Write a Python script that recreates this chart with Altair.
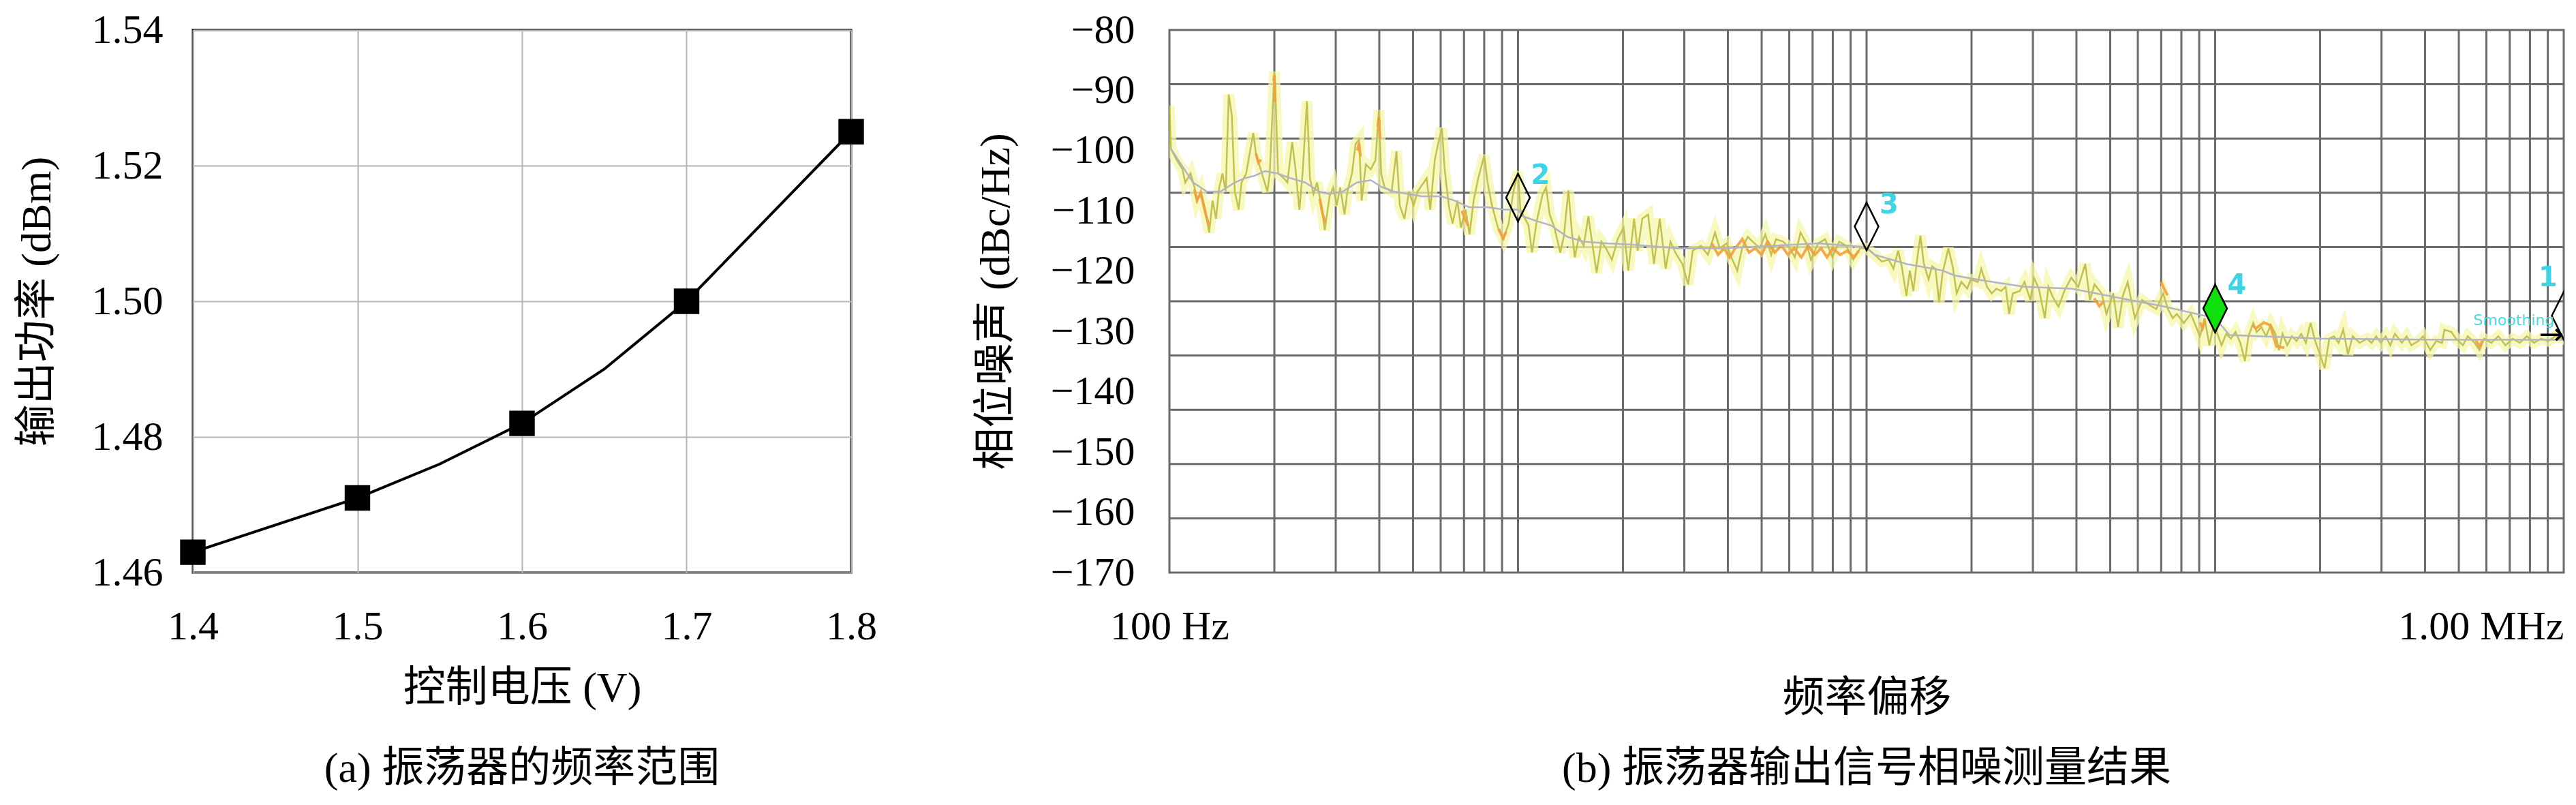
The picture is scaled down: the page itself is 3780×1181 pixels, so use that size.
import altair as alt
import pandas as pd

FONT = "Liberation Serif, Noto Sans CJK SC"

# (a) 振荡器的频率范围
volt_line = [1.4, 1.5, 1.55, 1.6, 1.65, 1.7, 1.75, 1.8]
power_line = [1.463, 1.471, 1.476, 1.482, 1.490, 1.500, 1.5125, 1.525]
volt_pts = [1.4, 1.5, 1.6, 1.7, 1.8]
power_pts = [1.463, 1.471, 1.482, 1.500, 1.525]
power_ticks = [1.46, 1.48, 1.50, 1.52, 1.54]

# (b) phase noise trace, read per decade (Hz, axis units)
dec1_f = [100, 101, 105, 109, 111, 115, 118, 120, 123, 127, 130, 133, 136, 139, 142, 145, 148, 151, 154, 158,
          161, 166, 174, 177, 181, 186, 191, 194, 200, 202, 205, 213, 218, 225, 230, 236, 241, 248, 253, 259,
          265, 273, 279, 288, 295, 302, 309, 318, 324, 334, 342, 350, 356, 366, 378, 390, 399, 405, 414, 434,
          448, 458, 472, 487, 502, 515, 547, 560, 577, 590, 605, 616, 633, 649, 670, 686, 707, 726, 746, 769,
          800, 818, 842, 876, 909, 940, 970]
dec1_db = [-92.6, -99.7, -101.6, -103.1, -105.3, -103.8, -106.1, -108.3, -106.8, -110.2,
           -113.6, -108.3, -111.3, -106.1, -103.8, -106.8, -90.7, -94.1, -106.8, -109.8,
           -105.3, -103.8, -97.1, -100.4, -102.3, -104.6, -106.8, -103.8, -86.9, -92.6,
           -103.8, -104.6, -105.3, -98.6, -103.1, -109.8, -103.8, -91.8, -104.6, -107.2,
           -105.3, -109.1, -113.2, -107.6, -106.1, -109.1, -106.1, -110.6, -106.8, -103.8,
           -98.9, -98.2, -108.3, -102.3, -103.1, -101.6, -93.3, -103.8, -106.1, -106.8,
           -100.1, -109.1, -111.3, -106.8, -109.1, -106.8, -104.6, -109.8, -101.6, -98.9,
           -96.3, -103.1, -109.1, -112.1, -108.3, -112.8, -109.8, -113.9, -108.3, -104.6,
           -100.8, -105.3, -109.1, -112.8, -114.7, -112.1, -106.8]

dec2_f = [1000, 1016, 1072, 1097, 1132, 1177, 1204, 1233, 1272, 1322, 1353, 1395, 1428, 1455, 1496, 1543,
          1592, 1630, 1681, 1734, 1787, 1859, 1932, 2008, 2072, 2153, 2205, 2273, 2362, 2455, 2551, 2652,
          2738, 2826, 2960, 3077, 3172, 3348, 3505, 3674, 3790, 3970, 4092, 4257, 4393, 4564, 4710, 4937,
          5124, 5325, 5494, 5757, 6029, 6222, 6463, 6720, 6925, 7262, 7605, 7975, 8345, 8745, 9154, 9588]
dec2_db = [-103.5, -109.8, -112.4, -116.9, -111.7, -107.2, -106.1, -110.6, -112.8, -116.9,
           -114.3, -106.6, -113.6, -117.7, -114.3, -115.8, -110.9, -115.1, -120.3, -115.1,
           -116.2, -118.1, -114.7, -112.8, -119.9, -111.3, -116.6, -111.3, -110.6, -118.8,
           -111.3, -119.6, -115.1, -116.9, -118.8, -122.2, -116.6, -115.8, -117.3, -113.6,
           -116.2, -115.4, -117.7, -119.9, -116.2, -114.3, -115.1, -116.2, -113.9, -117.3,
           -114.7, -115.1, -116.2, -117.7, -113.6, -115.4, -118.1, -115.4, -114.7, -117.7,
           -115.1, -115.8, -118.1, -116.2]

dec3_f = [10000, 10555, 11057, 11580, 11940, 12320, 12610, 13010, 13310, 13620, 13940, 14270, 14600, 15060,
          15410, 15770, 16140, 16520, 17170, 17710, 18130, 18700, 19440, 19900, 20850, 21330, 22160, 22850,
          23570, 24310, 25060, 25650, 26260, 27500, 28380, 29510, 30220, 31200, 32460, 33250, 34290, 35540,
          36920, 38660, 40500, 42410, 43720, 45070, 47250, 48780, 51000, 52650, 54350, 56110, 58850, 61700,
          64660, 67790, 70970, 73210, 75600, 77630, 81320, 85150, 87700, 90450, 93250, 96240]
dec3_db = [-116.2, -117.3, -118.4, -118.1, -119.6, -116.6, -119.2, -124.1, -119.9, -123.3,
           -118.4, -114.1, -118.8, -121.4, -119.2, -119.6, -125.2, -120.3, -116.2, -119.6,
           -123.7, -121.8, -122.9, -121.4, -121.8, -119.6, -122.6, -123.7, -122.9, -123.3,
           -122.6, -127.1, -123.7, -123.3, -121.8, -124.8, -121.1, -122.9, -127.8, -122.6,
           -124.4, -125.9, -123.3, -121.1, -122.6, -118.8, -124.8, -122.2, -123.7, -127.1,
           -123.7, -129.3, -124.1, -121.8, -127.8, -124.8, -125.6, -126.3, -123.7, -126.3,
           -127.8, -127.1, -128.6, -127.1, -128.9, -130.8, -127.8, -132.3]

dec4_f = [100000, 101100, 104300, 107600, 110960, 114450, 118050, 121750, 124600, 128600, 131600, 135760,
          140000, 144400, 148900, 152500, 156100, 161000, 166000, 171200, 176600, 182100, 187800, 193700,
          199800, 206000, 212500, 219200, 226000, 233100, 240400, 248000, 259700, 272400, 281000, 289800,
          298900, 308300, 317900, 327900, 343500, 354300, 365400, 383000, 394900, 414100, 430600, 447800,
          454800, 476100, 491000, 514000, 530200, 555700, 573000, 591300, 619600, 649400, 680700, 713400,
          747900, 783700, 821400, 860900, 902400, 945700, 991000, 1000000]
dec4_db = [-127.8, -130.1, -132.3, -130.4, -131.2, -130.1, -131.9, -134.9, -130.8, -128.6,
           -130.1, -129.3, -130.8, -128.9, -130.4, -133.1, -130.4, -132.3, -130.8, -131.6,
           -130.4, -131.9, -128.6, -131.6, -133.8, -136.1, -131.2, -130.8, -131.9, -129.7,
           -133.8, -130.8, -131.9, -131.2, -131.9, -130.8, -131.9, -130.8, -132.3, -130.4,
           -131.9, -130.8, -132.3, -131.6, -130.8, -133.1, -131.6, -131.9, -129.7, -130.1,
           -131.2, -132.3, -130.8, -131.9, -133.1, -131.2, -131.9, -130.8, -132.3, -131.2,
           -131.9, -130.8, -131.9, -131.2, -131.6, -130.8, -131.2, -131.0]

# smoothed trace (grey)
smooth_f = [101, 108, 117, 128, 140, 154, 164, 175, 188, 204, 223, 245, 269, 286, 314, 345, 378, 408, 441, 483,
            530, 602, 659, 724, 818, 909, 1000, 1031, 1132, 1242, 1384, 1543, 1800, 2104, 2868, 3909, 5325,
            7262, 9965, 10555, 13000, 16520, 17850, 20850, 28380, 38660, 52650, 71900, 100000, 110000,
            200000, 500000, 1000000]
smooth_db = [-99.7, -102.3, -105.3, -106.8, -106.8, -105.3, -104.6, -104.2, -103.4, -103.8,
             -104.6, -105.3, -106.8, -107.2, -106.8, -105.3, -104.9, -106.1, -106.8, -107.2,
             -107.6, -107.6, -108.3, -109.4, -109.4, -109.8, -109.8, -110.9, -111.7, -112.4,
             -114.3, -115.1, -115.4, -115.6, -116.2, -116.2, -115.8, -115.4, -116.0, -117.3,
             -118.8, -119.9, -120.7, -121.4, -122.6, -122.9, -124.4, -125.9, -127.8, -130.6,
             -131.2, -131.4, -131.4]

# orange raw-trace pieces showing through
orange_seg = [1, 1, 1, 1, 1, 2, 2, 2, 3, 3, 3, 4, 4, 4, 5, 5, 5, 6, 6, 6, 7, 7, 7, 8, 8, 8,
              9, 9, 9, 9, 9, 9, 9, 9, 9, 9, 9, 9, 9, 9, 9, 9, 9, 9, 9, 9, 9, 9, 9, 9,
              10, 10, 10, 11, 11, 11, 12, 12, 12, 13, 13, 13, 13, 13, 13, 14, 14, 14]
orange_f = [118, 120, 123, 127, 130, 177, 180, 183, 199, 200, 201, 270, 275, 280, 346, 350, 353,
            396, 399, 402, 690, 705, 720, 880, 905, 925,
            3600, 3750, 3900, 4050, 4200, 4400, 4600, 4800, 5000, 5200, 5450, 5700, 5950, 6200,
            6500, 6800, 7100, 7400, 7700, 8000, 8400, 8800, 9200, 9500,
            45000, 46500, 48000, 70000, 71500, 73000, 90500, 92000, 93500,
            128000, 131000, 138000, 144000, 150000, 158000, 560000, 573000, 585000]
orange_db = [-106.5, -108.3, -107.0, -110.5, -112.5, -100.5, -102.0, -101.5, -88.5, -87.5, -92.0,
             -108.0, -110.5, -112.0, -100.0, -98.8, -101.0, -96.0, -94.5, -98.0, -110.0, -111.3, -112.5,
             -113.0, -114.5, -113.5,
             -115.4, -117.3, -116.2, -117.7, -116.2, -114.7, -116.9, -116.2, -117.3, -115.1,
             -116.9, -115.8, -117.3, -116.2, -117.7, -115.8, -117.3, -116.2, -117.7, -116.2,
             -117.3, -116.6, -117.7, -116.6,
             -124.5, -125.8, -125.0, -121.8, -123.0, -124.0, -128.5, -129.5, -128.2,
             -129.0, -129.5, -128.5, -129.0, -132.5, -132.7, -131.5, -132.5, -131.5]

# analyser markers
mk_f = [1000, 10000, 100000, 1000000]
mk_db = [-107.8, -112.6, -126.2, -127.4]
mk_active = [False, False, True, False]
mk_label = ['2', '3', '4', '1']
lbl_f = [1158, 11580, 115300, 900000]
lbl_db = [-104.2, -109.1, -122.4, -121.2]

# instrument graticule and axis ticks
grid_f = [200, 300, 400, 500, 600, 700, 800, 900, 1000,
          2000, 3000, 4000, 5000, 6000, 7000, 8000, 9000, 10000,
          20000, 30000, 40000, 50000, 60000, 70000, 80000, 90000, 100000,
          200000, 300000, 400000, 500000, 600000, 700000, 800000, 900000]
grid_db = [-89, -98, -107, -116, -125, -134, -143, -152, -161]
db_ticks = [-80, -90, -100, -110, -120, -130, -140, -150, -160, -170]


def axis_style(**kw):
    base = dict(labelFont=FONT, labelFontSize=60, labelColor='black', labelLimit=0, labelFlush=False,
                titleFont=FONT, titleFontSize=62, titleFontWeight='normal', titleColor='black',
                ticks=False, tickSize=0, domain=False)
    base.update(kw)
    return alt.Axis(**base)


def caption(text, offset):
    return alt.TitleParams(text, orient='bottom', frame='group', anchor='middle', offset=offset,
                           font=FONT, fontSize=62, fontWeight='normal', color='black')


# ---------- panel (a)
xa = alt.X('v:Q', scale=alt.Scale(domain=[1.4, 1.8]),
           axis=axis_style(values=volt_pts, format='.1f', title='控制电压 (V)', grid=True,
                           gridColor='#b4b4b4', gridWidth=2, labelPadding=50, titlePadding=30))
ya = alt.Y('p:Q', scale=alt.Scale(domain=[1.46, 1.54]),
           axis=axis_style(values=power_ticks, format='.2f', title='输出功率 (dBm)', grid=True,
                           gridColor='#b4b4b4', gridWidth=2, labelPadding=44, titlePadding=48))

line_a = alt.Chart(pd.DataFrame({'v': volt_line, 'p': power_line})).mark_line(
    color='black', strokeWidth=4).encode(x=xa, y=ya)
pts_a = alt.Chart(pd.DataFrame({'v': volt_pts, 'p': power_pts})).mark_square(
    size=1400, color='black', opacity=1).encode(x=xa, y=ya)

panel_a = alt.layer(line_a, pts_a).properties(
    width=966, height=796,
    view=alt.ViewBackground(stroke='black', strokeWidth=3),
    title=caption('(a) 振荡器的频率范围', 58))

# ---------- panel (b)
xb = alt.X('f:Q', scale=alt.Scale(type='log', domain=[100, 1000000]),
           axis=axis_style(values=[100, 1000000],
                           labelExpr="datum.value <= 100 ? '100 Hz' : '1.00 MHz'",
                           labelAlign={'condition': {'test': 'datum.value <= 100', 'value': 'center'},
                                       'value': 'right'},
                           title='频率偏移', grid=False, labelPadding=50, titlePadding=45))
yb = alt.Y('db:Q', scale=alt.Scale(domain=[-170, -80]),
           axis=axis_style(values=db_ticks, labelExpr="'−' + abs(datum.value)",
                           title='相位噪声 (dBc/Hz)', grid=False, labelPadding=51, titlePadding=48))

trace = pd.DataFrame({'f': dec1_f + dec2_f + dec3_f + dec4_f,
                      'db': dec1_db + dec2_db + dec3_db + dec4_db})

vgrid = alt.Chart(pd.DataFrame({'f': grid_f})).mark_rule(color='#6a6a6a', strokeWidth=3).encode(x=xb)
hgrid = alt.Chart(pd.DataFrame({'db': grid_db})).mark_rule(color='#6a6a6a', strokeWidth=3).encode(y=yb)

halo = alt.Chart(trace).mark_line(color='#f5f5ac', strokeWidth=16, opacity=0.75, clip=True).encode(x=xb, y=yb)
line_b = alt.Chart(trace).mark_line(color='#c2c052', strokeWidth=2.5, clip=True).encode(x=xb, y=yb)
orange = alt.Chart(pd.DataFrame({'f': orange_f, 'db': orange_db, 'seg': orange_seg})).mark_line(
    color='#f0a040', strokeWidth=4, opacity=0.9, clip=True).encode(x=xb, y=yb, detail='seg:N')
smooth = alt.Chart(pd.DataFrame({'f': smooth_f, 'db': smooth_db})).mark_line(
    color='#b0b4c4', strokeWidth=2.5, clip=True).encode(x=xb, y=yb)

markers = pd.DataFrame({'f': mk_f, 'db': mk_db, 'active': mk_active})
DIAMOND = 'M0,-1L0.5,0L0,1L-0.5,0Z'
mk_open = alt.Chart(markers).transform_filter('!datum.active').mark_point(
    shape=DIAMOND, size=4900, filled=False, color='black', strokeWidth=2.5, opacity=1, clip=True
).encode(x=xb, y=yb)
mk_on = alt.Chart(markers).transform_filter('datum.active').mark_point(
    shape=DIAMOND, size=4900, filled=True, fill='#10e010', stroke='black', strokeWidth=2.5, opacity=1
).encode(x=xb, y=yb)
mk_text = alt.Chart(pd.DataFrame({'f': lbl_f, 'db': lbl_db, 't': mk_label})).mark_text(
    font='DejaVu Sans', fontWeight='bold', fontSize=40, color='#3fd4e4'
).encode(x=xb, y=yb, text='t:N')

smooth_note = alt.Chart(pd.DataFrame({'f': [940000], 'db': [-128.2], 't': ['Smoothing']})).mark_text(
    font='DejaVu Sans', fontSize=22, color='#4fd8dc', align='right'
).encode(x=xb, y=yb, text='t:N')
arrow = alt.Chart(pd.DataFrame({'f': [1000000], 'db': [-130.7], 't': ['→']})).mark_text(
    font='DejaVu Sans', fontSize=44, color='black', align='right'
).encode(x=xb, y=yb, text='t:N')

panel_b = alt.layer(vgrid, hgrid, halo, line_b, orange, smooth, mk_open, mk_on, mk_text,
                    smooth_note, arrow).properties(
    width=2046, height=796,
    view=alt.ViewBackground(stroke='#6a6a6a', strokeWidth=3),
    title=caption('(b) 振荡器输出信号相噪测量结果', 43))

chart = alt.hconcat(panel_a, panel_b, spacing=140).properties(
    padding={'left': 13, 'top': 4, 'right': 0, 'bottom': 0},
    background='white')

chart.save("out.html", embed_options={"renderer": "svg", "actions": False})
